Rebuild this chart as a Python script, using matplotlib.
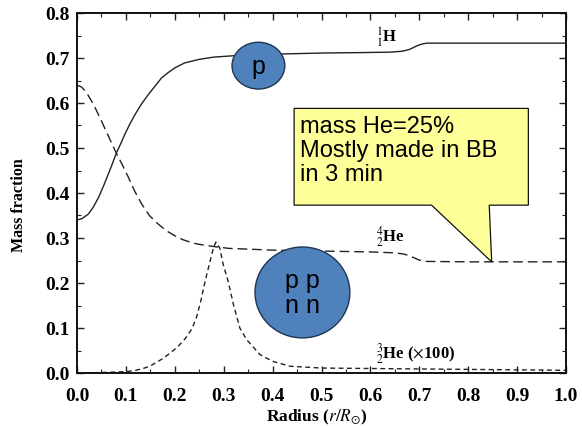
import matplotlib
matplotlib.use("Agg")
import matplotlib.pyplot as plt
from matplotlib.patches import Ellipse, Polygon
from matplotlib.ticker import MultipleLocator

# ---- data ----
h_x = [0.0, 0.01, 0.023, 0.033, 0.044, 0.054, 0.064, 0.073, 0.081, 0.090, 0.098,
       0.108, 0.119, 0.132, 0.146, 0.160, 0.173, 0.187, 0.200, 0.22, 0.25, 0.28,
       0.32, 0.37, 0.42, 0.50, 0.58, 0.64, 0.665, 0.68, 0.695, 0.705, 0.715,
       0.80, 0.90, 1.00]
h_y = [0.340, 0.343, 0.353, 0.368, 0.390, 0.415, 0.442, 0.467, 0.490, 0.511, 0.531,
       0.553, 0.575, 0.598, 0.619, 0.638, 0.656, 0.668, 0.678, 0.689, 0.697, 0.702,
       0.705, 0.707, 0.709, 0.711, 0.712, 0.713, 0.715, 0.719, 0.727, 0.731, 0.733,
       0.733, 0.733, 0.733]

he4_x = [0.0, 0.01, 0.02, 0.03, 0.04, 0.05, 0.064, 0.078, 0.092, 0.105, 0.118,
         0.132, 0.148, 0.166, 0.183, 0.200, 0.217, 0.24, 0.26, 0.28, 0.31, 0.40,
         0.50, 0.60, 0.65, 0.67, 0.685, 0.70, 0.712, 0.80, 0.90, 1.0]
he4_y = [0.640, 0.635, 0.622, 0.604, 0.583, 0.560, 0.527, 0.494, 0.464, 0.435, 0.404,
         0.376, 0.350, 0.331, 0.316, 0.305, 0.296, 0.288, 0.284, 0.281, 0.277, 0.273,
         0.271, 0.269, 0.267, 0.264, 0.258, 0.251, 0.248, 0.247, 0.247, 0.247]

he3_x = [0.0, 0.05, 0.10, 0.12, 0.135, 0.149, 0.177, 0.204, 0.221, 0.235, 0.245,
         0.253, 0.262, 0.272, 0.279, 0.284, 0.292, 0.299, 0.309, 0.320, 0.333,
         0.347, 0.374, 0.40, 0.436, 0.50, 0.70, 1.0]
he3_y = [0.000, 0.001, 0.003, 0.006, 0.010, 0.015, 0.033, 0.056, 0.076, 0.098, 0.126,
         0.159, 0.204, 0.248, 0.278, 0.291, 0.278, 0.241, 0.204, 0.152, 0.100,
         0.074, 0.041, 0.026, 0.015, 0.011, 0.009, 0.006]

x_ticks = [0.0, 0.1, 0.2, 0.3, 0.4, 0.5, 0.6, 0.7, 0.8, 0.9, 1.0]
y_ticks = [0.0, 0.1, 0.2, 0.3, 0.4, 0.5, 0.6, 0.7, 0.8]
x_tick_labels = ["0.0", "0.1", "0.2", "0.3", "0.4", "0.5", "0.6", "0.7", "0.8", "0.9", "1.0"]
y_tick_labels = ["0.0", "0.1", "0.2", "0.3", "0.4", "0.5", "0.6", "0.7", "0.8"]

plt.rcParams['mathtext.fontset'] = 'stix'
serif = ['Liberation Serif', 'DejaVu Serif']
sans = ['Liberation Sans', 'DejaVu Sans']

fig = plt.figure(figsize=(5.82, 4.27), dpi=100)
ax = fig.add_axes([77/582, 1-374/427, 489/582, 360/427])

line_c = '#222222'
ax.plot(h_x, h_y, color=line_c, lw=1.0, solid_capstyle='butt')
ax.plot(he4_x, he4_y, color=line_c, lw=1.0, dashes=(7, 3.5))
ax.plot(he3_x, he3_y, color=line_c, lw=1.0, dashes=(3.5, 2.5))

ax.set_xlim(0, 1.0)
ax.set_ylim(0, 0.8)
ax.set_xticks(x_ticks)
ax.set_yticks(y_ticks)
ax.set_xticklabels(x_tick_labels, family=serif, fontweight='bold', fontsize=14)
ax.set_yticklabels(y_tick_labels, family=serif, fontweight='bold', fontsize=14)
ax.xaxis.set_minor_locator(MultipleLocator(0.05))
ax.yaxis.set_minor_locator(MultipleLocator(0.05))
ax.tick_params(which='both', direction='in', top=True, right=True, color='#222222')
ax.tick_params(which='major', length=5, width=1.0)
ax.tick_params(which='minor', length=3, width=0.8)
ax.tick_params(axis='x', pad=10)
ax.tick_params(axis='y', pad=5)
for s in ax.spines.values():
    s.set_linewidth(1.4)
    s.set_color('#111111')

ax.set_xlabel(r'Radius ($r/R_{\odot}$)', family=serif, fontweight='bold', fontsize=12.5)
ax.xaxis.set_label_coords(0.49, -0.095)
ax.set_ylabel('Mass fraction', family=serif, fontweight='bold', fontsize=11.5)
ax.yaxis.set_label_coords(-0.102, 0.47)

# curve labels
ax.text(0.612, 0.748, r'${}^{1}_{1}$H', family=serif, fontweight='bold', fontsize=12,
        va='center', ha='left')
ax.text(0.612, 0.305, r'${}^{4}_{2}$He', family=serif, fontweight='bold', fontsize=12,
        va='center', ha='left')
ax.text(0.612, 0.045, r'${}^{3}_{2}$He ($\times$100)', family=serif, fontweight='bold',
        fontsize=12, va='center', ha='left')

# overlay annotations
blue = '#4F81BD'
edge = '#1F3552'
ax.add_patch(Ellipse((0.371, 0.683), 0.108, 0.104, facecolor=blue, edgecolor=edge, lw=1.0, zorder=5))
ax.text(0.371, 0.683, 'p', family=sans, fontsize=18, ha='center', va='center', zorder=6)
ax.add_patch(Ellipse((0.461, 0.179), 0.194, 0.202, facecolor=blue, edgecolor=edge, lw=1.0, zorder=5))
ax.text(0.461, 0.179, 'p p\nn n', family=sans, fontsize=18, ha='center', va='center',
        linespacing=1.05, zorder=6)

callout = Polygon([(0.444, 0.588), (0.923, 0.588), (0.923, 0.373), (0.843, 0.373),
                   (0.848, 0.247), (0.725, 0.373), (0.444, 0.373)], closed=True,
                  facecolor='#FFFF99', edgecolor='#111111', lw=0.9, zorder=5)
ax.add_patch(callout)
ax.text(0.456, 0.574, 'mass He=25%\nMostly made in BB\nin 3 min', family=sans, fontsize=17,
        ha='left', va='top', linespacing=1.12, zorder=6)

fig.savefig('out.png', dpi=100)
